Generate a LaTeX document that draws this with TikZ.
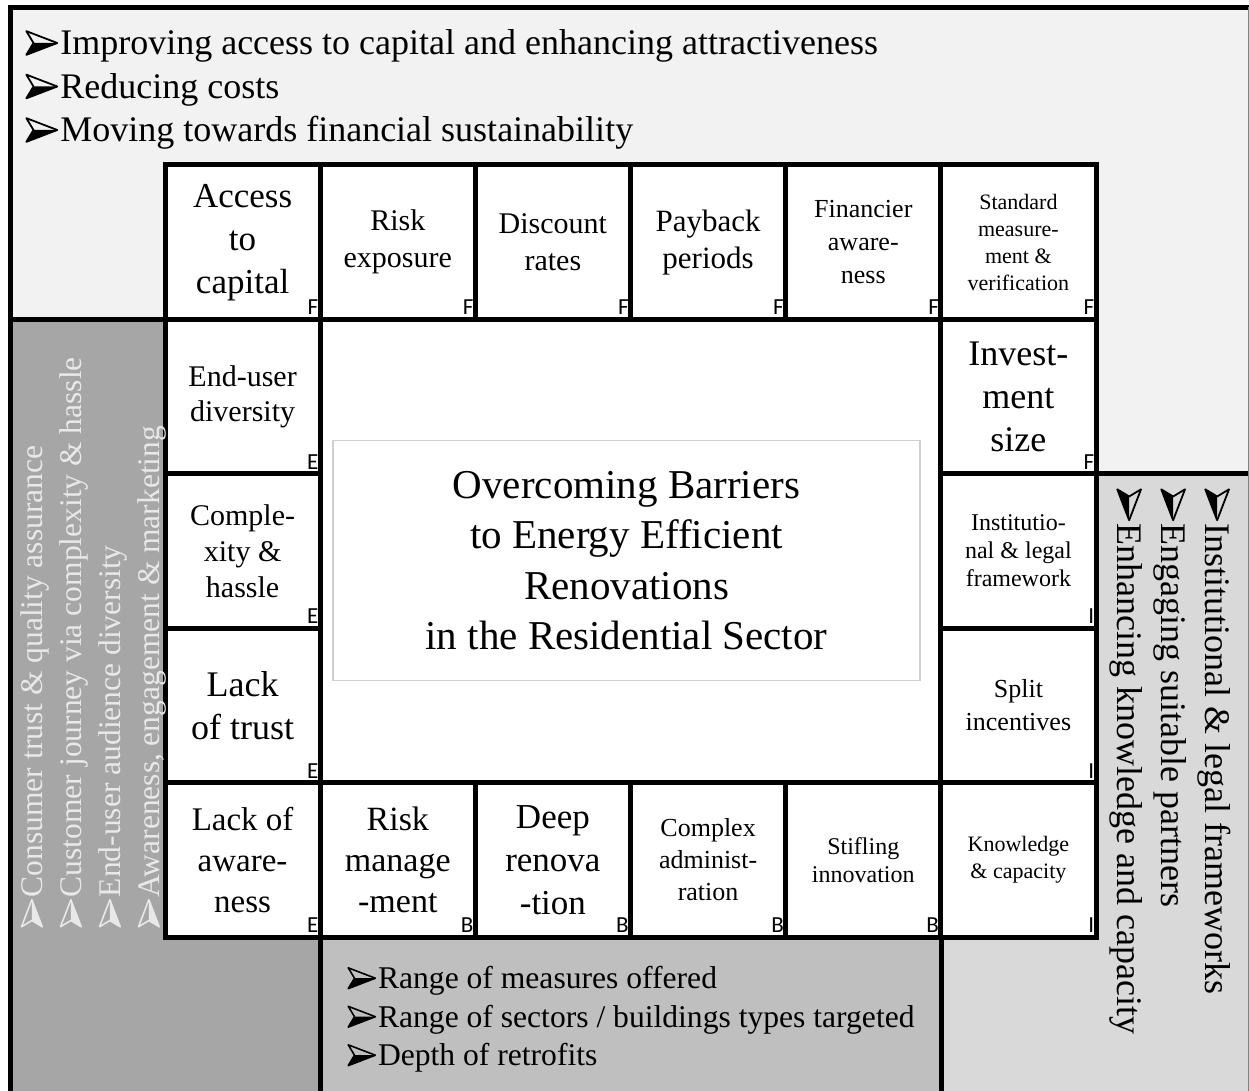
\documentclass[tikz,border=0pt]{standalone}
\usepackage{fontspec}
\setmainfont{Liberation Serif}
\newfontfamily\tagfont{Carlito}
\usetikzlibrary{calc}

\definecolor{topfill}{HTML}{F2F2F2}
\definecolor{leftfill}{HTML}{A6A6A6}
\definecolor{botfill}{HTML}{BFBFBF}
\definecolor{rightfill}{HTML}{D9D9D9}
\definecolor{leftink}{HTML}{E8E8E8}
\definecolor{coreline}{HTML}{CFCFCF}

\newcommand{\fsz}[2]{\fontsize{#1}{#2}\selectfont}
% 3-d arrowhead bullet
\newcommand{\bul}{\tikz[x=1em,y=1em,baseline=0pt]{%
  \draw[line width=0.05em,line join=round] (0,0.66) -- (0.86,0.33) -- (0,0) -- (0.2,0.33) -- cycle;
  \fill (0.2,0.33) -- (0.86,0.33) -- (0,0) -- cycle;}\kern0.06em}

\begin{document}
\begin{tikzpicture}[x=0.5pt,y=-0.5pt,
  barrier/.style={draw,line width=2.5pt,fill=white,minimum width=77.6pt,minimum height=77.2pt,inner sep=0pt,align=center},
  tag/.style={font=\tagfont\fsz{11.5}{11.5},anchor=base east,inner sep=0pt,xshift=-2pt,yshift=3.5pt},
  note/.style={align=left,inner sep=0pt,anchor=north west}]
\useasboundingbox (0,0) rectangle (1249,1091);

% regions
\fill[topfill] (10,7) -- (1249,7) -- (1249,474) -- (1096,474) -- (1096,165) -- (165,165) -- (165,320) -- (10,320) -- cycle;
\fill[leftfill] (10,320) -- (165,320) -- (165,937) -- (320,937) -- (320,1091) -- (10,1091) -- cycle;
\fill[botfill] (320,937) rectangle (941,1091);
\fill[rightfill] (1096,474) -- (1249,474) -- (1249,1091) -- (941,1091) -- (941,937) -- (1096,937) -- cycle;
\fill[white] (165,165) rectangle (1096,937);
\draw[line width=2.5pt] (10,320) -- (165,320);
\draw[line width=2.5pt] (320,937) -- (320,1091);
\draw[line width=2.5pt] (941,937) -- (941,1091);
\draw[line width=2.5pt] (1096,474) -- (1249,474);
\draw[line width=2.5pt] (10.5,1091) |- (1249,7.5);
\draw[gray,line width=0.5pt] (1248.5,7.5) -- (1248.5,1091);

% top row
\node[barrier,font=\fsz{17.5}{21.5}] (AccCap) at (242.6,242.2) {Access\\to\\capital};
\node[barrier,font=\fsz{15}{18.5}] (RiskExp) at (397.8,242.2) {Risk\\exposure};
\node[barrier,font=\fsz{15}{18.5}] (DiscRate) at (552.9,242.2) {Discount\\rates};
\node[barrier,font=\fsz{15.5}{18.5}] (Payback) at (708.1,242.2) {Payback\\periods};
\node[barrier,font=\fsz{13}{16.5}] (FinAware) at (863.3,242.2) {Financier\\aware-\\ness};
\node[barrier,font=\fsz{11}{13.5}] (StdMV) at (1018.4,242.2) {Standard\\measure-\\ment \&\\verification};

% left column
\node[barrier,font=\fsz{15}{17.5}] (EndUser) at (242.6,396.6) {End-user\\diversity};
\node[barrier,font=\fsz{15}{18}] (Complex) at (242.6,551.0) {Comple-\\xity \&\\hassle};
\node[barrier,font=\fsz{18}{21.5}] (LackTrust) at (242.6,705.4) {Lack\\of trust};
\node[barrier,font=\fsz{16.5}{20.5}] (LackAware) at (242.6,859.8) {Lack of\\aware-\\ness};

% bottom row
\node[barrier,font=\fsz{17}{20.5}] (RiskMan) at (397.8,859.8) {Risk\\manage\\-ment};
\node[barrier,font=\fsz{17.5}{21.5}] (DeepRen) at (552.9,859.8) {Deep\\renova\\-tion};
\node[barrier,font=\fsz{13}{16}] (CplxAdm) at (708.1,859.8) {Complex\\administ-\\ration};
\node[barrier,font=\fsz{12}{14}] (Stifling) at (863.3,859.8) {Stifling\\innovation};
\node[barrier,font=\fsz{11}{13.5}] (Knowl) at (1018.4,859.8) {Knowledge\\\& capacity};

% right column
\node[barrier,font=\fsz{18}{21.5}] (InvSize) at (1018.4,396.6) {Invest-\\ment\\size};
\node[barrier,font=\fsz{12}{14}] (InstLegal) at (1018.4,551.0) {Institutio-\\nal \& legal\\framework};
\node[barrier,font=\fsz{13}{16.5}] (SplitInc) at (1018.4,705.4) {Split\\incentives};

\foreach \c/\t in {AccCap/F,RiskExp/F,DiscRate/F,Payback/F,FinAware/F,StdMV/F,InvSize/F,
  EndUser/E,Complex/E,LackTrust/E,LackAware/E,RiskMan/B,DeepRen/B,CplxAdm/B,Stifling/B,
  InstLegal/I,SplitInc/I,Knowl/I}
  \node[tag] (\c-tag) at (\c.south east) {\t};

% centre
\node[draw=coreline,line width=0.6pt,fill=white,minimum width=293.5pt,minimum height=120pt,
  align=center,font=\fsz{20.5}{25.25}] (Core) at (626.5,560.5)
  {Overcoming Barriers\\to Energy Efficient\\Renovations\\in the Residential Sector};

% solutions
\node[note,font=\fsz{18}{21.75}] (FinTxt) at (25,29.5)
  {\bul Improving access to capital and enhancing attractiveness\\
   \bul Reducing costs\\
   \bul Moving towards financial sustainability};
\node[note,font=\fsz{15.8}{19.25}] (BusTxt) at (347,966)
  {\bul Range of measures offered\\
   \bul Range of sectors / buildings types targeted\\
   \bul Depth of retrofits};
\node[note,rotate=90,font=\fsz{15.75}{19.5},text=leftink] (EndTxt) at (20,928)
  {\bul Consumer trust \& quality assurance\\
   \bul Customer journey via complexity \& hassle\\
   \bul End-user audience diversity\\
   \bul Awareness, engagement \& marketing};
\node[note,rotate=-90,font=\fsz{18}{22}] (InstTxt) at (1231,488)
  {\bul Institutional \& legal frameworks\\
   \bul Engaging suitable partners\\
   \bul Enhancing knowledge and capacity};
\end{tikzpicture}
\end{document}
